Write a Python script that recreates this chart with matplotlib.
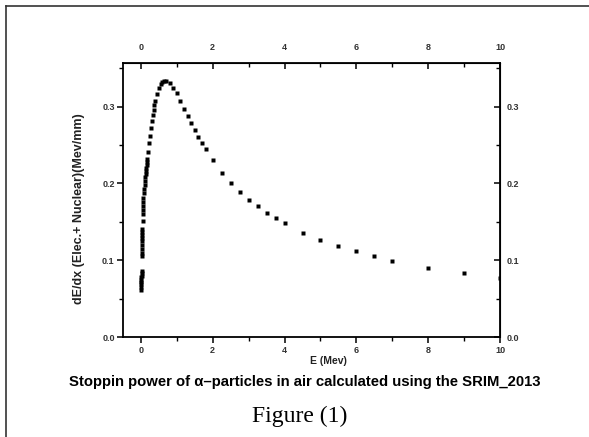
import numpy as np
import matplotlib
matplotlib.use("Agg")
import matplotlib.pyplot as plt
from matplotlib.ticker import MultipleLocator
from matplotlib.lines import Line2D

# SRIM energy grid (MeV) and total stopping power (MeV/mm)
energy = [0.010, 0.011, 0.012, 0.013, 0.014, 0.015, 0.016, 0.017, 0.018, 0.020,
          0.0225, 0.025, 0.0275, 0.030, 0.0325, 0.035, 0.0375, 0.040, 0.045, 0.050,
          0.055, 0.060, 0.065, 0.070, 0.080, 0.090, 0.100, 0.110, 0.120, 0.130,
          0.140, 0.150, 0.160, 0.170, 0.180, 0.200, 0.225, 0.250, 0.275, 0.300,
          0.325, 0.350, 0.375, 0.400, 0.450, 0.500, 0.550, 0.600, 0.650, 0.700,
          0.800, 0.900, 1.000, 1.100, 1.200, 1.300, 1.400, 1.500, 1.600, 1.700,
          1.800, 2.000, 2.250, 2.500, 2.750, 3.000, 3.250, 3.500, 3.750, 4.000,
          4.500, 5.000, 5.500, 6.000, 6.500, 7.000, 8.000, 9.000, 10.000]
dedx = [0.062, 0.066, 0.069, 0.072, 0.075, 0.078, 0.080, 0.083, 0.086, 0.106,
        0.110, 0.115, 0.120, 0.125, 0.129, 0.133, 0.137, 0.141, 0.151, 0.160,
        0.166, 0.171, 0.176, 0.181, 0.187, 0.193, 0.198, 0.203, 0.208, 0.212,
        0.216, 0.220, 0.224, 0.228, 0.232, 0.241, 0.252, 0.262, 0.272, 0.281,
        0.289, 0.296, 0.302, 0.307, 0.316, 0.324, 0.329, 0.332, 0.333, 0.333,
        0.330, 0.324, 0.317, 0.307, 0.297, 0.288, 0.278, 0.269, 0.260, 0.252,
        0.245, 0.230, 0.214, 0.200, 0.189, 0.179, 0.171, 0.162, 0.155, 0.149,
        0.136, 0.126, 0.119, 0.112, 0.106, 0.0995, 0.090, 0.0835, 0.077]

x_ticks = [0, 2, 4, 6, 8, 10]
y_ticks = [0.0, 0.1, 0.2, 0.3]

tick_font = dict(family="Liberation Sans", size=6.5, weight="bold", color="#333333")

fig = plt.figure(figsize=(5.89, 4.37), dpi=100)
ax = fig.add_axes([0.2088, 0.2281, 0.6401, 0.6284])

ax.plot(energy, dedx, linestyle="none", marker="s", ms=3.3, mec="none", mfc="black")

ax.set_xlim(-0.5, 10)
ax.set_ylim(0, 0.357)
ax.set_xticks(x_ticks)
ax.set_yticks(y_ticks)
ax.xaxis.set_minor_locator(MultipleLocator(1))
ax.yaxis.set_minor_locator(MultipleLocator(0.05))
ax.set_xticklabels([str(t) for t in x_ticks], fontdict=tick_font)
ax.set_yticklabels(["%.1f" % t for t in y_ticks], fontdict=tick_font)
ax.tick_params(which="major", direction="out", length=4, width=1.1, pad=2)
ax.tick_params(which="minor", direction="out", length=3, width=1.0)
for s in ax.spines.values():
    s.set_linewidth(1.3)

top = ax.secondary_xaxis("top")
top.set_xticks(x_ticks)
top.set_xticklabels([str(t) for t in x_ticks], fontdict=tick_font)
top.xaxis.set_minor_locator(MultipleLocator(1))
top.tick_params(which="major", direction="in", length=4, width=1.1, pad=8)
top.tick_params(which="minor", direction="in", length=3, width=1.0)

right = ax.secondary_yaxis("right")
right.set_yticks(y_ticks)
right.set_yticklabels(["%.1f" % t for t in y_ticks], fontdict=tick_font)
right.yaxis.set_minor_locator(MultipleLocator(0.05))
right.tick_params(which="major", direction="in", length=4, width=1.1, pad=5)
right.tick_params(which="minor", direction="in", length=3, width=1.0)

ax.set_ylabel("dE/dx (Elec.+ Nuclear)(Mev/mm)", family="Liberation Sans",
              size=9, weight="bold", color="#222222")
ax.yaxis.set_label_coords(-0.10, 0.47)
fig.text(0.557, 0.175, "E (Mev)", family="Liberation Sans", size=7.5,
         weight="bold", color="#222222", ha="center", va="center")

fig.text(0.518, 0.126, "Stoppin power of \u03b1\u2013particles in air calculated using the SRIM_2013",
         family="Liberation Sans", size=10.7, weight="bold", ha="center", va="center")
fig.text(0.508, 0.046, "Figure (1)", family="Liberation Serif", size=17,
         ha="center", va="center")

# page frame
fig.add_artist(Line2D([6 / 589, 1], [1 - 6 / 437, 1 - 6 / 437], color="#333333", lw=1.2))
fig.add_artist(Line2D([6 / 589, 6 / 589], [0, 1 - 6 / 437], color="#333333", lw=1.2))

fig.savefig("out.png", dpi=100)
